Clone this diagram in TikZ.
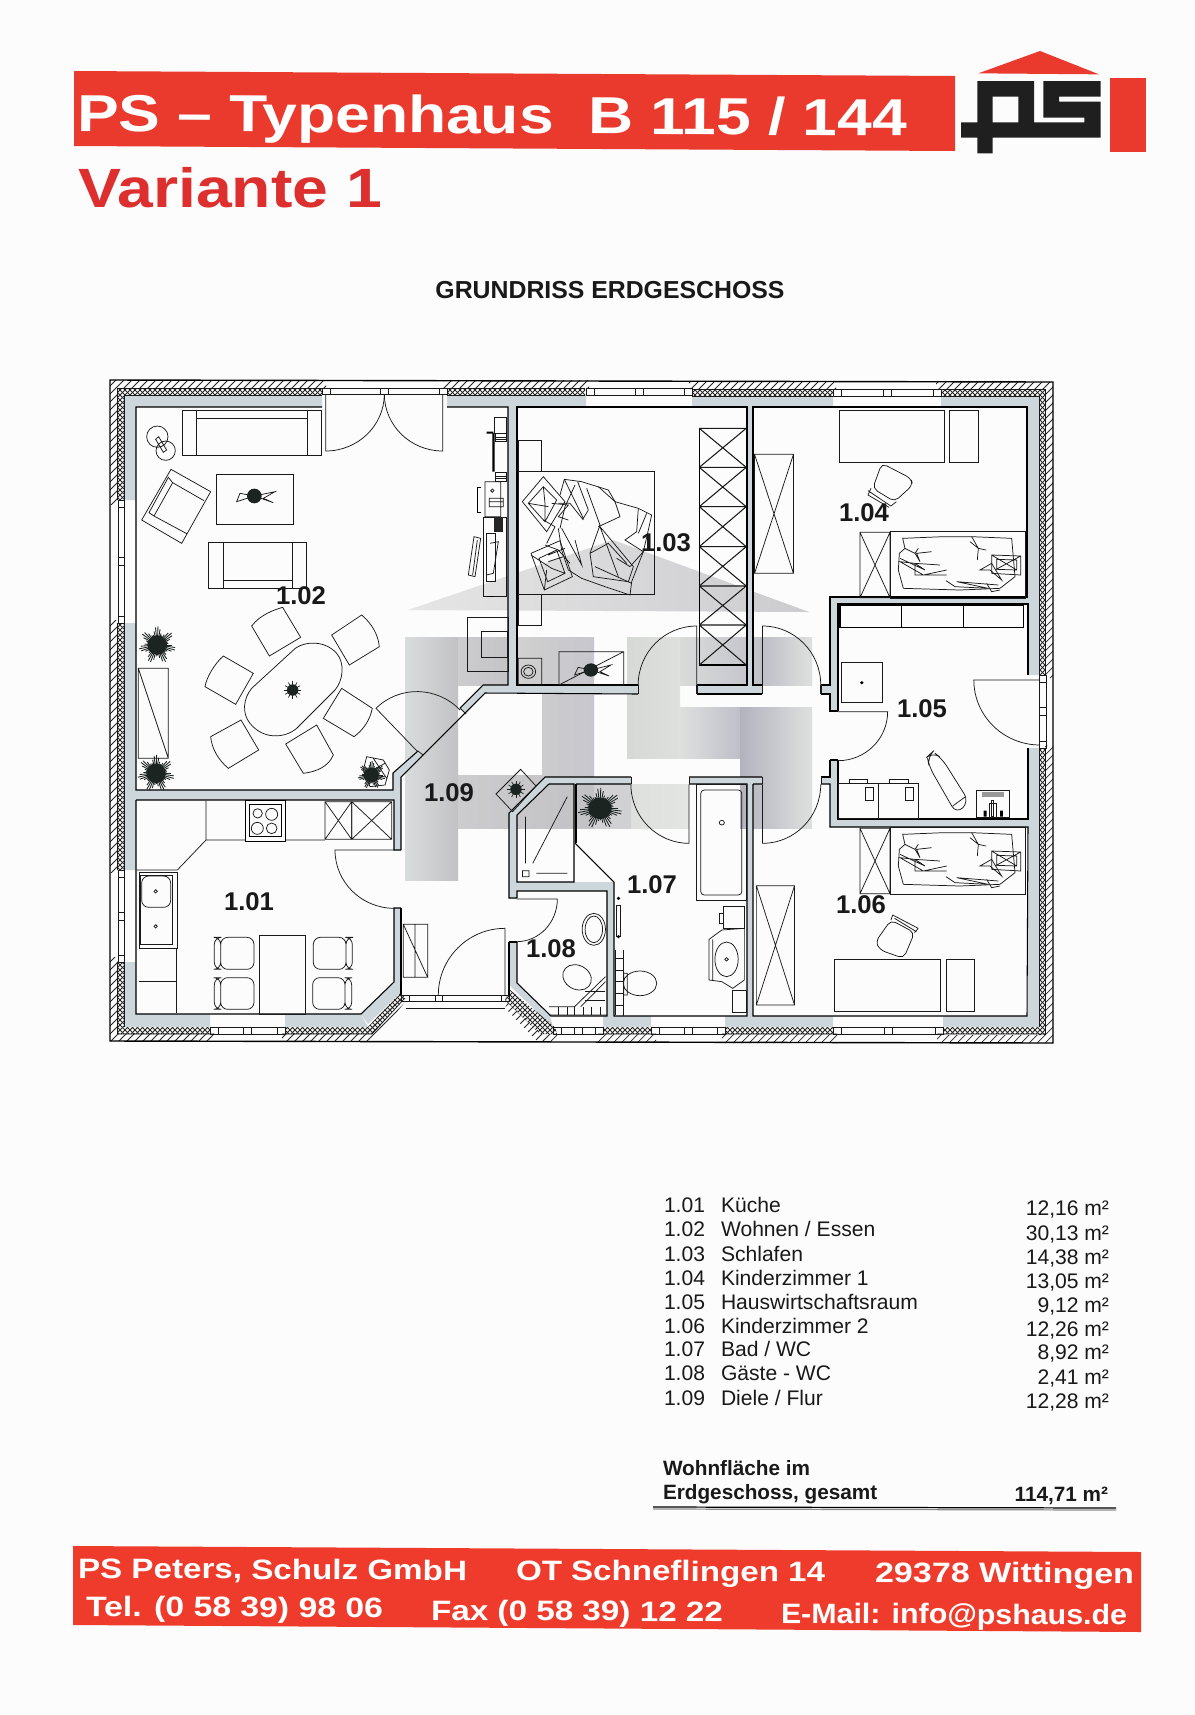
\documentclass[tikz,border=0pt]{standalone}
\usepackage{fontspec}
\usepackage{graphicx}
\setmainfont{Liberation Sans}
\usetikzlibrary{calc}
\definecolor{bannerred}{HTML}{EA3A2E}
\definecolor{footred}{HTML}{EE3B2C}
\definecolor{varred}{HTML}{DC2F2E}
\definecolor{plaster}{HTML}{CDD6DA}
\definecolor{plantdark}{HTML}{1C2422}
\newlength\pxu \setlength\pxu{0.02cm}
\newcommand\fsz[1]{\fontsize{#1}{#1}\selectfont}
\newcommand\fitw[2]{\resizebox{#1\pxu}{\height}{#2}}
\tikzset{
  wl/.style={line width=0.6pt,black},
  tl/.style={line width=0.42pt,black!90},
  hl/.style={line width=0.42pt,black!85},
  z2/.style={shift={(100,370)},xscale=0.33333,yscale=0.33333},
  z3/.style={shift={(500,370)},xscale=0.36364,yscale=0.33333},
  z4/.style={shift={(100,680)},xscale=0.33333,yscale=0.33333},
  z5/.style={shift={(500,680)},xscale=0.36364,yscale=0.33333},
  z9/.style={shift={(460,400)},xscale=0.33333,yscale=0.33333},
  z8/.style={shift={(955,45)},xscale=0.33333,yscale=0.33333},
  z11/.style={shift={(515,470)},xscale=0.33333,yscale=0.33333},
  txt/.style={inner sep=0pt,outer sep=0pt,anchor=base west},
  rlabel/.style={inner sep=0pt,outer sep=0pt,anchor=center,font=\fsz{14.6pt}\bfseries,text=black!90},
  tbl/.style={inner sep=0pt,outer sep=0pt,anchor=base west,font=\fsz{12pt},text=black!90},
  tblr/.style={inner sep=0pt,outer sep=0pt,anchor=base east,font=\fsz{12pt},text=black!90},
  tblb/.style={inner sep=0pt,outer sep=0pt,anchor=base west,font=\fsz{11.8pt}\bfseries,text=black!90},
}
\newcommand\door[3]{\draw[tl] #1 -- #2 .. controls ($#2!0.552!($#2+#3-#1$)$) and ($#3!0.552!($#2+#3-#1$)$) .. #3;}
\newcommand\plant[3]{%
  \foreach \a in {0,8,...,352}{\pgfmathsetmacro\l{#3*(0.78+0.22*sin(7*\a))}\draw[line width=0.5pt,plantdark] (#1,#2) -- ++(\a:\l);}
  \fill[plantdark] (#1,#2) circle[radius=#3*0.52];}
\newcommand\flower[3]{%
  \foreach \a in {0,30,...,330}{\draw[line width=0.4pt,plantdark] (#1,#2) -- ++(\a:#3);}
  \fill[plantdark] (#1,#2) circle[radius=#3*0.66];}
\newcommand\xbox[4]{\draw[tl] (#1,#2) rectangle (#3,#4) (#1,#2) -- (#3,#4) (#3,#2) -- (#1,#4);}
\newcommand\hwin[4]{\pgfmathsetmacro\mm{(#1+#2)/2}
  \draw[tl] (#1,#3) -- (#2,#3) (#1,#4) -- (#2,#4) (#1,#3) rectangle (#1+8,#4) (\mm-4,#3) rectangle (\mm+4,#4) (#2-8,#3) rectangle (#2,#4);}
\newcommand\vwin[4]{\pgfmathsetmacro\mm{(#3+#4)/2}
  \draw[tl] (#1,#3) -- (#1,#4) (#2,#3) -- (#2,#4) (#1,#3) rectangle (#2,#3+7) (#1,\mm-4) rectangle (#2,\mm+4) (#1,#4-7) rectangle (#2,#4);}
\newcommand\crumple{%
  \draw[tl] (90,35) rectangle (495,235);
  \xbox{0}{37}{90}{233}
  \draw[tl] (128,55)--(250,50)--(335,50)--(455,55)--(465,170)--(420,205)--(300,210)--(130,205)--(115,150)--(118,100)--(135,85)--cycle;
  \draw[tl] (335,50)--(355,85)--(378,90) (330,65)--(355,85)--(352,120);
  \draw[tl] (135,85)--(165,100)--(175,85) (165,100)--(180,125)--(170,100)--(215,95);
  \draw[tl] (120,115)--(195,150)--(165,130)--(120,125)--(190,165)--(260,150) (165,130)--(240,135) (165,130)--(165,165)--(260,165);
  \draw[tl] (395,105)--(482,108)--(482,165)--(395,160)--cycle (410,118)--(470,120)--(470,150)--(410,148)--cycle (395,105)--(470,150) (482,108)--(405,150);
  \draw[tl] (360,150)--(395,130)--(425,180)--(390,150)--cycle;
  \draw[tl] (258,182)--(285,200)--(385,205)--(290,185)--(415,195) (380,190)--(395,215)--(420,210);}
\begin{document}
\begin{tikzpicture}[x=0.02cm,y=-0.02cm]
\useasboundingbox (0,0) rectangle (1195,1715);
\fill[white!99!black] (0,0) rectangle (1195,1715);

% header
\fill[bannerred] (74,71) -- (955,76) -- (955,151) -- (74,146) -- cycle;
\node[txt,text=white,font=\fsz{29.6pt}\bfseries,rotate=-0.33] (title) at (77,131) {\fitw{830}{PS – Typenhaus\ \ B 115 / 144}};
\node[txt,text=varred,font=\fsz{31.5pt}\bfseries] (variante) at (78,207) {\fitw{304}{Variante 1}};
\node[inner sep=0pt,anchor=base,font=\fsz{14pt}\bfseries,text=black!90] (grundriss) at (610,298) {\fitw{349}{GRUNDRISS ERDGESCHOSS}};
% logo
\begin{scope}[z8]
  \fill[bannerred] (70,85) -- (255,18) -- (432,88) -- cycle;
  \fill[bannerred] (465,98) rectangle (573,322);
  \fill[black!88,even odd rule] (67,108)--(237,108)--(237,232)--(388,232)--(388,218)--(265,218)--(265,108)--(437,108)--(437,155)--(312,155)--(312,170)--(437,170)--(437,278)--(113,278)--(113,325)--(67,325)--(67,278)--(18,278)--(18,232)--(67,232)--cycle
    (113,155) rectangle (190,232);
\end{scope}

% watermark shading
\shade[left color=black!10,right color=blue!6!black!20] (408,610) -- (613,540) -- (809,612) -- cycle;
\shade[left color=cyan!8!black!15,right color=blue!6!black!24] (405,637) rectangle (458,880);
\shade[left color=blue!6!black!20,right color=blue!6!black!23] (458,637) rectangle (508,685);
\shade[left color=blue!6!black!20,right color=blue!6!black!24] (458,775) rectangle (594,828);
\shade[left color=blue!6!black!20,right color=blue!10!black!22] (542,637) rectangle (594,775);
\shade[left color=black!18,right color=black!20] (517,637) rectangle (542,685);
\shade[left color=green!6!black!16,right color=green!6!black!13] (627,637) rectangle (680,758);
\shade[left color=green!6!black!13,right color=blue!15!black!25] (680,707) rectangle (740,758);
\shade[left color=green!5!black!15,right color=blue!15!black!24] (680,637) rectangle (760,685);
\shade[left color=blue!15!black!30,right color=green!6!black!13] (740,707) rectangle (812,828);
\shade[left color=blue!15!black!26,right color=green!6!black!13] (760,637) rectangle (812,685);
\shade[left color=green!6!black!13,right color=green!6!black!11] (631,784) rectangle (689,828);
\shade[left color=blue!6!black!18,right color=blue!6!black!18] (594,784) rectangle (631,828);

% plaster
\fill[plaster]
  (124,395) rectangle (322,407) (447,395) rectangle (586,407) (692,396) rectangle (833,407) (941,396) rectangle (1039,407)
  (124,395) rectangle (136,500) (124,623) rectangle (136,870) (124,962) rectangle (136,1027)
  (1027,396) rectangle (1039,675) (1028,748) rectangle (1039,1027)
  (124,1014) rectangle (210,1027) (285,1014) -- (361,1014) -- (368,1027) -- (285,1027) -- cycle
  (603,1016) rectangle (651,1027) (725,1016) rectangle (833,1027) (943,1016) rectangle (1039,1027);
\fill[plaster] (393,790)--(393,773)--(418,751)--(423,755)--(401,777)--(401,850)--(394,850)--(394,800)--(136,800)--(136,790)--cycle;
\fill[plaster] (460,708)--(483,685)--(638,685)--(638,694)--(485,693)--(466,714)--cycle;
\fill[plaster] (508,407) rectangle (517,685);
\fill[plaster] (697,685) rectangle (762,694);
\fill[plaster] (747,407) rectangle (753,685);
\fill[plaster] (821,685)--(830,685)--(830,597)--(1027,597)--(1027,604)--(838,604)--(838,711)--(830,711)--(830,694)--(821,694)--cycle;
\fill[plaster] (830,760)--(838,760)--(838,819)--(1028,819)--(1028,827)--(830,827)--(830,784)--(821,784)--(821,777)--(830,777)--cycle;
\fill[plaster] (762,777)--(762,784)--(753,784)--(753,1016)--(747,1016)--(747,784)--(689,784)--(689,777)--cycle;
\fill[plaster] (631,777)--(631,784)--(549,784)--(517,815)--(517,898)--(509,898)--(509,813)--(545,777)--cycle;
\fill[plaster] (509,942)--(517,942)--(517,983)--(550,1016)--(553,1027)--(509,985)--cycle;
\fill[plaster] (517,882)--(614,882)--(614,1016)--(607,1016)--(607,891)--(517,891)--cycle;
\fill[plaster] (394,908)--(401,908)--(401,992)--(368,1024)--(361,1014)--(394,982)--cycle;

% hatch band
\begin{scope}
\clip (110,380) rectangle (326,388) (443,380) rectangle (589,388) (689,381) rectangle (836,389) (936,382) rectangle (1053,390)
  (110,380) rectangle (118,505) (110,620) rectangle (118,873) (110,957) rectangle (118,1041)
  (1045,382) rectangle (1053,678) (1045,745) rectangle (1053,1043)
  (110,1033) rectangle (214,1041)
  (282,1033)--(362,1033)--(399,996)--(405,1002)--(373,1041)--(282,1041)--cycle
  (505,1008)--(537,1041)--(557,1041)--(557,1034)--(542,1034)--(508,1002)--cycle
  (598,1034) rectangle (656,1043) (722,1034) rectangle (837,1043) (937,1035) rectangle (1053,1043);
\foreach \i in {-620,-612,...,1060}{\draw[hl] (\i,1060) -- (\i+700,360);}
\end{scope}
% insulation
\begin{scope}
\clip (117,388) rectangle (322,395) (447,388) rectangle (585,395) (692,389) rectangle (833,396) (941,389) rectangle (1045,396)
  (117,388) rectangle (124,500) (117,623) rectangle (124,870) (117,962) rectangle (124,1034)
  (1039,389) rectangle (1045,675) (1039,748) rectangle (1045,1035)
  (117,1027) rectangle (210,1034)
  (285,1027)--(368,1027)--(401,992)--(405,998)--(372,1034)--(285,1034)--cycle
  (510,990)--(555,1027)--(557,1034)--(540,1034)--(505,1000)--cycle
  (603,1027) rectangle (651,1034) (725,1027) rectangle (833,1034) (943,1027) rectangle (1039,1034);
\foreach \i in {-620,-615,...,1060}{\draw[line width=0.5pt,black!85] (\i,1060) -- (\i+700,360) (\i,360) -- (\i+700,1060);}
\end{scope}
\draw[tl] (117,388) -- (322,388) (124,395) -- (322,395) (447,388) -- (585,388) (447,395) -- (585,395) (692,389) -- (833,389) (692,396) -- (833,396) (941,389) -- (1045,389) (941,396) -- (1039,396);
\draw[tl] (117,388) -- (117,500) (124,395) -- (124,500) (117,623) -- (117,870) (124,623) -- (124,870) (117,962) -- (117,1034) (124,962) -- (124,1027);
\draw[tl] (1045,389) -- (1045,675) (1039,396) -- (1039,675) (1045,748) -- (1045,1035) (1039,748) -- (1039,1027);
\draw[tl] (117,1034) -- (214,1034) (282,1034) -- (372,1034) -- (405,998) (598,1034) -- (656,1034) (722,1034) -- (837,1034) (937,1034) -- (1045,1034);
\draw[wl,line width=0.8pt] (110,380) -- (1053,382) -- (1053,1043) -- (110,1041) -- cycle;

% windows
\hwin{322}{447}{388}{394}
\hwin{586}{692}{388}{395}
\hwin{833}{941}{389}{396}
\vwin{118}{124}{500}{623}
\vwin{118}{124}{870}{962}
\vwin{1039}{1046}{675}{748}
\hwin{210}{285}{1027}{1034}
\hwin{553}{603}{1027}{1034}
\hwin{651}{725}{1027}{1034}
\hwin{833}{943}{1027}{1034}

% room outlines
\draw[wl] (322,407) -- (136,407) -- (136,790) -- (393,790) -- (393,773) -- (418,751);
\draw[wl] (460,708) -- (483,685) -- (508,685) -- (508,407) -- (447,407);
\draw[wl] (638,685) -- (517,685) -- (517,407) -- (747,407) -- (747,685) -- (697,685);
\draw[wl] (821,685) -- (830,685) -- (830,597) -- (1027,597) -- (1027,407) -- (753,407) -- (753,685) -- (762,685);
\draw[wl] (838,711) -- (838,604) -- (1028,604) -- (1028,675);
\draw[wl] (838,760) -- (838,819) -- (1028,819) -- (1028,748);
\draw[wl] (638,694) -- (485,693) -- (401,777) -- (401,850);
\draw[wl] (401,908) -- (401,995);
\draw[wl] (697,694) -- (762,694) (821,694) -- (830,694) -- (830,711) -- (838,711) (830,760) -- (838,760) (830,760) -- (830,777) -- (821,777);
\draw[wl] (762,777) -- (689,777) (631,777) -- (545,777) -- (509,813) -- (509,898) -- (517,898);
\draw[wl] (509,942) -- (509,995) (509,942) -- (517,942);
\draw[wl] (753,784) -- (762,784) (821,784) -- (830,784) -- (830,827) -- (1028,827) -- (1027,1016) -- (753,1016) -- (753,784);
\draw[wl] (576,784) -- (631,784) (689,784) -- (747,784) -- (747,1016) -- (614,1016) -- (614,882) -- (575,843);
\draw[wl] (576,784) -- (576,843);
\draw[wl] (549,784) -- (574,784) -- (574,882) -- (517,882) -- (517,815) -- cycle;
\draw[wl] (517,898) -- (517,891) -- (607,891) -- (607,1016) -- (551,1016) -- (517,983) -- (517,942);
\draw[wl] (136,800) -- (394,800) -- (394,850) -- (401,850) (401,908) -- (394,908) -- (394,982) -- (361,1014) -- (136,1014) -- (136,800);
\draw[tl] (418,751) -- (423,755) (460,708) -- (466,714);
\draw[tl] (638,685) -- (638,694) (697,685) -- (697,694) (762,685) -- (762,694) (821,685) -- (821,694);
\draw[tl] (631,777) -- (631,784) (689,777) -- (689,784) (762,777) -- (762,784) (821,777) -- (821,784);

% doors and entry
\begin{scope}[z2]
  \door{(677,72)}{(677,243)}{(853,72)}
  \door{(1028,72)}{(1028,243)}{(853,72)}
  \door{(953,1145)}{(828,1015)}{(1080,1020)}
\end{scope}
\begin{scope}[z3]
  \door{(541,945)}{(541,768)}{(380,945)}
  \door{(722,945)}{(722,768)}{(882,945)}
  \door{(930,1025)}{(1066,1025)}{(930,1172)}
  \door{(1485,930)}{(1303,930)}{(1485,1125)}
\end{scope}
\begin{scope}[z5]
  \door{(520,313)}{(520,490)}{(360,313)}
  \door{(722,313)}{(722,490)}{(882,313)}
\end{scope}
\begin{scope}[z4]
  \door{(883,510)}{(705,510)}{(883,685)}
  \door{(1250,657)}{(1372,657)}{(1250,785)}
  \door{(1215,945)}{(1215,745)}{(1015,945)}
  \draw[tl] (905,945) -- (1228,945) (905,965) -- (1228,965) (917,985) -- (1215,985) (905,945) rectangle (928,965) (1005,945) rectangle (1027,965) (1205,945) rectangle (1228,965);
  % kitchen
  \draw[tl] (318,362) -- (318,480) -- (437,480) (555,480) -- (675,480) (318,480) -- (232,570) -- (110,570);
  \draw[wl,line width=0.5pt] (437,362) rectangle (555,483) (448,373) rectangle (545,468);
  \draw[tl] (473,400) circle[radius=14] (515,403) circle[radius=18] (472,445) circle[radius=18] (515,445) circle[radius=16];
  \xbox{675}{365}{755}{478}
  \xbox{755}{365}{875}{478}
  \draw[tl] (118,578) rectangle (232,805) (122,585) rectangle (218,792);
  \draw[tl,rounded corners=4pt] (125,588) rectangle (212,682);
  \draw[tl] (167,634) circle[radius=5] (167,739) circle[radius=5];
  \draw[tl] (118,805) -- (228,805) -- (228,1000) (118,905) -- (228,905);
  \draw[tl] (478,765) rectangle (617,1003);
  \draw[tl,rounded corners=4pt] (362,772) rectangle (462,868) (343,772) rectangle (362,868) (362,893) rectangle (462,988) (343,893) rectangle (362,988);
  \draw[tl,rounded corners=4pt] (640,772) rectangle (738,868) (738,772) rectangle (757,868) (638,893) rectangle (735,988) (735,893) rectangle (755,988);
  \draw[tl] (910,733) rectangle (983,892) (910,733) -- (983,892) (945,733) -- (945,892);
\end{scope}

% living room furniture
\begin{scope}[z2]
  \draw[tl] (248,122) rectangle (665,256) (290,122) -- (290,256) (622,122) -- (622,256) (290,145) -- (622,145);
  \draw[tl] (172,200) circle[radius=32] (197,242) circle[radius=29] (167,208)--(176,200)--(200,240)--(190,247)--cycle;
  \draw[tl] (213,298)--(332,365)--(245,520)--(125,450)--cycle (205,322)--(147,428)--(162,438)--(218,338)--cycle (218,338)--(312,392) (162,438)--(262,492);
  \draw[tl] (350,313) rectangle (580,463);
  \draw[tl] (463,378)--(410,395)--(420,370)--(463,378)--(525,365)--(490,385)--(520,398)--(463,378);
  \fill[plantdark] (463,378) circle[radius=22];
  \draw[tl] (325,518) rectangle (620,655) (370,518) -- (370,655) (578,518) -- (578,655) (370,630) -- (578,630);
  \draw[tl] (575,845) .. controls (600,815) and (670,805) .. (710,850) .. controls (735,880) and (730,930) .. (705,960) -- (590,1075) .. controls (555,1105) and (490,1110) .. (450,1060) .. controls (425,1030) and (430,985) .. (455,955) -- cycle;
  \draw[tl] (508,858) -- (455,768) .. controls (480,735) and (520,720) .. (548,712) -- (602,802) -- cycle;
  \draw[tl] (748,885) -- (695,795) -- (785,735) .. controls (815,760) and (835,795) .. (838,830) -- cycle;
  \draw[tl] (460,910) -- (370,858) .. controls (345,880) and (320,920) .. (315,950) -- (407,1003) -- cycle;
  \draw[tl] (423,1050) -- (476,1140) -- (385,1195) .. controls (355,1170) and (335,1135) .. (332,1100) -- cycle;
  \draw[tl] (650,1065) -- (557,1122) -- (610,1210) .. controls (650,1205) and (685,1190) .. (700,1155) -- cycle;
  \draw[tl] (725,955) -- (670,1045) -- (762,1100) .. controls (790,1080) and (810,1050) .. (817,1015) -- cycle;
  \flower{578}{960}{26}
  \plant{172}{825}{56}
  \plant{168}{1210}{56}
  \draw[tl] (115,895) rectangle (205,1165) (115,895) -- (205,1165);
  \draw[tl] (800,1160)--(850,1170)--(868,1200)--(855,1245)--(810,1250)--(790,1200)--cycle (820,1165)--(860,1225) (800,1210)--(855,1180);
  \plant{815}{1215}{42}
  \draw[tl] (1262,1198)--(1308,1248)--(1238,1325)--(1188,1272)--cycle;
  \flower{1248}{1258}{26}
  % cabinet near living wall
  \draw[tl] (1103,742) rectangle (1225,905) (1145,785) rectangle (1222,862);
\end{scope}
% TV unit
\begin{scope}[z9]
  \draw[tl] (103,52) rectangle (140,100);
  \fill[black] (97,100) rectangle (104,215) (80,95) rectangle (100,101);
  \draw[tl] (105,100) rectangle (140,125) (105,112) -- (140,112) (105,118) -- (140,118);
  \draw[tl] (105,218) rectangle (140,245) (105,228) -- (140,228) (105,236) -- (140,236);
  \draw[tl] (75,245) rectangle (122,350) (88,295) rectangle (130,320) (88,305) -- (130,305) (97,272) circle[radius=5];
  \draw[line width=0.9pt] (62,262) -- (52,262) -- (52,338) -- (62,338);
  \draw[tl] (70,352) rectangle (140,590) (78,400) rectangle (105,545);
  \fill[black!85] (103,352) rectangle (130,395);
  \draw[tl] (42,410)--(25,525)--(45,530)--(62,415)--cycle (52,420)--(38,525);
  \draw[tl] (90,430)--(115,425)--(100,520)--(80,525);
  \fill[black] (80,588) rectangle (100,592);
\end{scope}

% bed 1.03
\begin{scope}[z11]
  \draw[tl] (22,95)--(85,20)--(150,95)--(95,185)--cycle (40,100)--(85,50)--(125,90)--(90,155)--cycle (40,100)--(100,110) (85,50)--(90,100)--(90,155);
  \draw[tl] (135,75)--(148,28)--(200,35)--(280,60)--(300,95)--(370,115)--(410,135)--(400,180)--(385,245)--(350,335)--(345,375)--(270,350)--(200,325)--(160,300)--(140,240)--(130,175);
  \draw[tl] (148,28)--(205,145)--(220,120)--(188,35) (180,45)--(150,110)--(135,175) (130,100)--(165,100)--(205,150);
  \draw[tl] (250,170)--(315,140)--(300,95)--(250,50);
  \draw[tl] (215,55)--(255,165)--(225,250)--(235,320)--(340,335)--(355,290)--(255,170)--(310,320);
  \draw[tl] (225,250)--(280,220)--(335,280) (370,115)--(365,185)--(330,210)--(385,245)--(345,290)--(305,265) (395,130)--(370,190);
  \draw[tl] (140,175)--(200,285)--(180,210) (90,225)--(130,240)--(165,280) (85,150)--(120,170)--(95,220) (240,290)--(350,340) (110,100)--(160,105)--(130,140)--(160,150);
  \draw[tl] (48,250)--(135,212)--(172,320)--(88,360)--cycle (72,265)--(125,240)--(150,310)--(98,335)--cycle (48,255)--(110,295)--(150,310) (88,360)--(95,300) (100,255)--(150,235) (100,275)--(145,260);
\end{scope}

% 1.03 and right rooms
\begin{scope}[z3]
  \draw[tl] (50,305) rectangle (425,672) (50,212) rectangle (115,305) (50,672) rectangle (115,765);
  \draw[tl] (50,865) rectangle (115,945) (78,905) circle[radius=20] (78,905) circle[radius=13];
  \draw[tl] (162,845) rectangle (340,945) (162,945) -- (340,845);
  \draw[tl] (250,900)--(205,915)--(215,892)--(250,900)--(305,885)--(275,905)--(300,918)--cycle;
  \fill[plantdark] (250,900) circle[radius=20];
  % wardrobes
  \draw[wl,line width=0.6pt] (548,175) rectangle (677,885);
  \foreach \t/\b in {175/292,292/410,410/530,530/648,648/765,765/885}{\draw[tl,line width=0.6pt] (548,\t) -- (677,\t) (548,\t) -- (677,\b) (677,\t) -- (548,\b);}
  \xbox{700}{253}{807}{610}
  \draw[tl] (541,945) -- (541,973) (380,945) -- (380,973) (722,945) -- (722,973) (882,945) -- (882,973);
  \draw[tl] (932,122) rectangle (1222,277) (1237,122) rectangle (1316,277);
  \draw[tl,rounded corners=3pt] (1050,280)--(1130,325)--(1135,345)--(1085,395)--(1025,355)--cycle;
  \draw[tl] (1012,362)--(1075,408)--(1090,395) (1020,355)--(1012,375)--(1070,412);
  % utility room
  \draw[line width=0.6pt] (935,705) rectangle (1440,772) (1105,705) -- (1105,772) (1275,705) -- (1275,772);
  \draw[tl] (940,877) rectangle (1052,997);
  \fill (995,938) circle[radius=5];
  \draw[tl,rounded corners=5pt] (1175,1160)--(1190,1145)--(1215,1165)--(1290,1295)--(1255,1332)--(1180,1190)--cycle;
  \draw[tl] (1245,1308)--(1280,1280);
  \draw[tl] (930,1240) rectangle (1150,1345) (1040,1240) -- (1040,1345) (960,1228) rectangle (1010,1240) (1072,1228) rectangle (1122,1240) (1005,1252) rectangle (1027,1290) (1115,1252) rectangle (1137,1290);
  \draw[tl] (1310,1262) rectangle (1400,1342);
  \fill[black!40] (1325,1265) rectangle (1385,1280);
  \draw[tl] (1345,1340) -- (1345,1300) -- (1365,1300) -- (1365,1340) (1352,1290) rectangle (1358,1340);
  \fill (1330,1322) rectangle (1338,1340) (1375,1322) rectangle (1383,1340);
\end{scope}
\begin{scope}[shift={(860,520)},xscale=0.33333,yscale=0.33333]\crumple\end{scope}
\begin{scope}[shift={(860,816)},xscale=0.33333,yscale=0.33333]\crumple\end{scope}

% bath and lower right
\begin{scope}[z5]
  \draw[tl] (540,313) rectangle (678,660);
  \draw[tl,rounded corners=2pt] (552,330) rectangle (665,645);
  \draw[tl] (610,428) circle[radius=7];
  \draw[tl] (318,810) -- (318,1005) (338,810) -- (338,1008);
  \foreach \yy in {835,870,905,940,975}{\draw[tl] (318,\yy) -- (338,\yy);}
  \draw[tl] (385,910) ellipse[x radius=46,y radius=37] (340,880) rectangle (350,945);
  \draw[tl] (320,675) rectangle (332,770);
  \fill (326,655) circle[radius=5] (326,770) circle[radius=5];
  \draw[tl] (70,410) -- (70,550) (90,550) -- (185,350) (62,572) rectangle (80,590) (100,580) -- (185,580);
  \plant{275}{385}{62}
  \draw[tl] (575,778)--(610,750)--(672,745)--(672,900)--(640,925)--(610,905)--(575,900)--cycle (585,778)--(585,900);
  \draw[tl] (623,838) ellipse[x radius=32,y radius=52] (623,838) circle[radius=5];
  \draw[tl] (615,678) rectangle (672,745) (603,700) rectangle (615,730) (640,930) rectangle (677,998);
  \xbox{705}{617}{810}{975}
  \draw[tl] (920,838) rectangle (1210,995) (1228,838) rectangle (1305,995);
  \draw[tl,rounded corners=3pt] (1075,720)--(1140,758)--(1110,835)--(1045,810)--(1033,785)--cycle;
  \draw[tl] (1080,705)--(1150,745) (1085,715)--(1145,755) (1075,720)--(1080,705) (1150,745)--(1140,758);
  % WC 1.08
  \draw[tl] (258,748) ellipse[x radius=32,y radius=48] (258,748) ellipse[x radius=24,y radius=40];
  \draw[tl,rotate around={-40:(212,892)}] (212,892) ellipse[x radius=42,y radius=35];
  \draw[tl] (205,980)--(290,890) (222,980)--(290,905) (205,980)--(135,980) (135,1005)--(295,1005);
  \foreach \xx in {160,185,205,228,250,275}{\draw[tl] (\xx,980)--(\xx,1005);}
  \foreach \yy in {935,960}{\draw[tl] (235,\yy)--(290,\yy);}
\end{scope}

% room numbers
\node[rlabel] (r101) at (249,902) {1.01};
\node[rlabel] (r102) at (301,596) {1.02};
\node[rlabel] (r103) at (666,543) {1.03};
\node[rlabel] (r104) at (864,513) {1.04};
\node[rlabel] (r105) at (922,709) {1.05};
\node[rlabel] (r106) at (861,905) {1.06};
\node[rlabel] (r107) at (652,885) {1.07};
\node[rlabel] (r108) at (551,949) {1.08};
\node[rlabel] (r109) at (449,793) {1.09};

% table
\node[tbl] (n1) at (664,1212) {1.01}; \node[tbl] (t1) at (721,1212) {Küche}; \node[tblr] (v1) at (1109,1215) {12,16 m²};
\node[tbl] (n2) at (664,1236) {1.02}; \node[tbl] (t2) at (721,1236) {Wohnen / Essen}; \node[tblr] (v2) at (1109,1240) {30,13 m²};
\node[tbl] (n3) at (664,1261) {1.03}; \node[tbl] (t3) at (721,1261) {Schlafen}; \node[tblr] (v3) at (1109,1264) {14,38 m²};
\node[tbl] (n4) at (664,1285) {1.04}; \node[tbl] (t4) at (721,1285) {Kinderzimmer 1}; \node[tblr] (v4) at (1109,1288) {13,05 m²};
\node[tbl] (n5) at (664,1309) {1.05}; \node[tbl] (t5) at (721,1309) {Hauswirtschaftsraum}; \node[tblr] (v5) at (1109,1312) {9,12 m²};
\node[tbl] (n6) at (664,1333) {1.06}; \node[tbl] (t6) at (721,1333) {Kinderzimmer 2}; \node[tblr] (v6) at (1109,1336) {12,26 m²};
\node[tbl] (n7) at (664,1356) {1.07}; \node[tbl] (t7) at (721,1356) {Bad / WC}; \node[tblr] (v7) at (1109,1359) {8,92 m²};
\node[tbl] (n8) at (664,1380) {1.08}; \node[tbl] (t8) at (721,1380) {Gäste - WC}; \node[tblr] (v8) at (1109,1384) {2,41 m²};
\node[tbl] (n9) at (664,1405) {1.09}; \node[tbl] (t9) at (721,1405) {Diele / Flur}; \node[tblr] (v9) at (1109,1408) {12,28 m²};
\node[tblb] (w1) at (663,1475) {Wohnfläche im};
\node[tblb] (w2) at (663,1499) {Erdgeschoss, gesamt};
\node[tblb,anchor=base east] (w3) at (1108,1501) {114,71 m²};
\draw[line width=0.7pt] (653,1507) -- (1116,1508);
\draw[line width=0.7pt,black!45] (653,1509) -- (1116,1510);

% footer
\fill[footred] (73,1546) -- (1141,1552) -- (1141,1632) -- (73,1625) -- cycle;
\tikzset{foot/.style={txt,text=white,font=\fsz{16pt}\bfseries,rotate=-0.33}}
\node[foot] (f1) at (78,1578) {\fitw{389}{PS Peters, Schulz GmbH}};
\node[foot] (f2) at (516,1580) {\fitw{309}{OT Schneflingen 14}};
\node[foot] (f3) at (875,1582) {\fitw{259}{29378 Wittingen}};
\node[foot] (f4) at (86,1616) {\fitw{297}{Tel. (0 58 39) 98 06}};
\node[foot] (f5) at (431,1620) {\fitw{292}{Fax (0 58 39) 12 22}};
\node[foot] (f6) at (781,1623) {\fitw{346}{E-Mail: info@pshaus.de}};
\end{tikzpicture}
\end{document}
